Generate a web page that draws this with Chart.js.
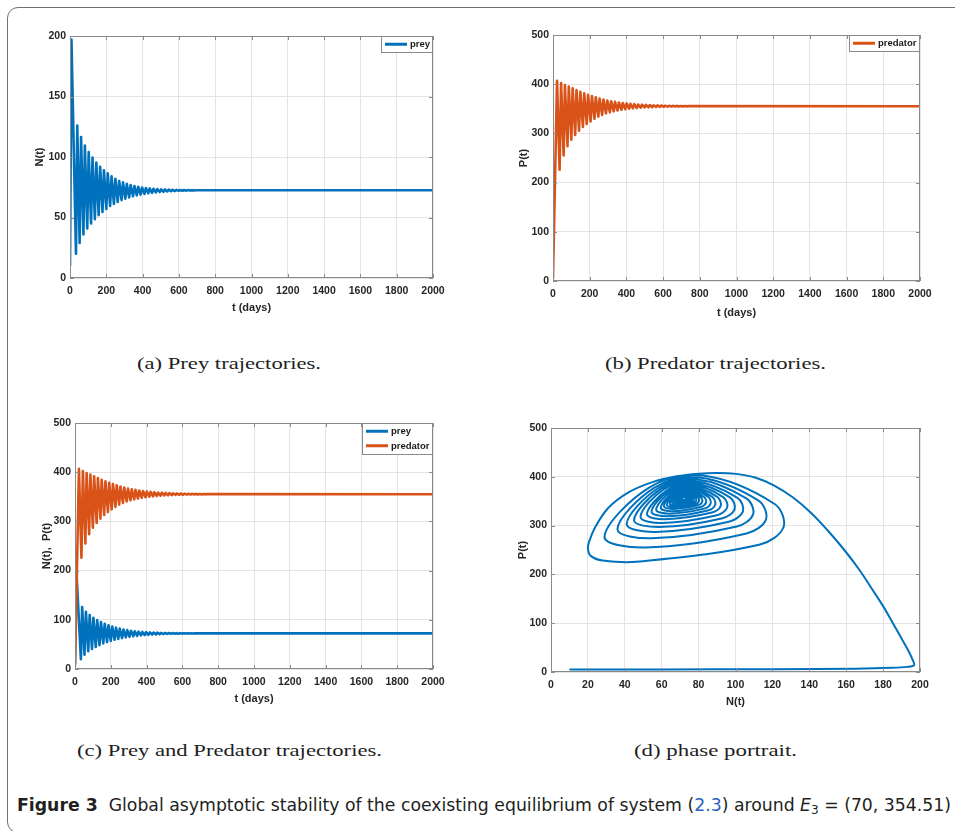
<!DOCTYPE html>
<html>
<head>
<meta charset="utf-8">
<script src="https://cdn.jsdelivr.net/npm/chart.js@4.4.1/dist/chart.umd.min.js"></script>
<style>
  html, body { margin: 0; padding: 0; background: #fff; width: 955px; height: 831px; overflow: hidden; }
  #frame { position: absolute; left: 7px; top: 7px; width: 1000px; height: 826px; border: 1.5px solid #707070; border-radius: 11px; box-sizing: border-box; }
  canvas { position: absolute; }
  .sub { position: absolute; font-family: "Liberation Serif", "DejaVu Serif", serif; font-size: 17.5px; color: #1e1e1e; white-space: nowrap; line-height: 1; transform-origin: 0 50%; }
  #cap { position: absolute; font-family: "Liberation Sans Narrow", "DejaVu Sans Condensed", "Open Sans", sans-serif; font-size: 18.5px; color: #231f20; white-space: nowrap; line-height: 1; transform-origin: 0 50%; }
  #cap b { font-weight: bold; }
  #cap .ref { color: #2a62c0; }
  #cap sub { font-size: 70%; vertical-align: -0.25em; line-height: 0; }
</style>
</head>
<body>
<div id="frame"></div>
<canvas id="ca"></canvas>
<canvas id="cb"></canvas>
<canvas id="cc"></canvas>
<canvas id="cd"></canvas>
<div class="sub" id="sa">(a) Prey trajectories.</div>
<div class="sub" id="sb">(b) Predator trajectories.</div>
<div class="sub" id="sc">(c) Prey and Predator trajectories.</div>
<div class="sub" id="sd">(d) phase portrait.</div>
<div id="cap"><b>Figure 3</b>&nbsp; Global asymptotic stability of the coexisting equilibrium of system (<span class="ref">2.3</span>) around <i>E</i><sub>3</sub> = (70, 354.51)</div>
<script>
// prey N(t): turning points
const preyT = [0, 8, 33, 40, 53, 61, 74, 82, 95, 103, 116, 124, 137, 145, 158, 166, 179, 187, 200, 208,
  221, 229, 242, 250, 263, 271, 284, 292, 305, 313, 326, 334, 347, 355, 368, 376, 389, 397, 410, 418,
  431, 439, 452, 460, 473, 481, 494, 502, 515, 523, 536, 544, 557, 565, 578, 586, 599, 607, 620, 628,
  641, 649, 662, 670, 683, 691, 2000];
const preyN = [10, 197, 20, 126, 29, 116.5, 36, 109.5, 41, 104, 45, 99.5, 48.5, 95.5, 52, 92, 54.5, 89, 57, 86.5,
  59.5, 84, 61.2, 82, 62.8, 80.2, 64.3, 79, 65.5, 77.8, 66.6, 76.8, 67.5, 76, 68.3, 75.35, 68.95, 74.8, 69.5, 74.4,
  70.0, 74.05, 70.4, 73.75, 70.75, 73.5, 71.05, 73.3, 71.3, 73.15, 71.5, 73.0, 71.7, 72.9, 71.85, 72.82, 72.0, 72.75, 72.1, 72.7,
  72.2, 72.65, 72.28, 72.6, 72.35, 72.56, 72.5];

// predator P(t): turning points
const predT = [0, 22, 36, 44, 58, 65, 79, 86, 100, 107, 121, 128, 142, 149, 163, 170, 184, 191, 205, 212,
  226, 233, 247, 254, 268, 275, 289, 296, 310, 317, 331, 338, 352, 359, 373, 380, 394, 401, 415, 422,
  436, 443, 457, 464, 478, 485, 499, 506, 520, 527, 541, 548, 562, 569, 583, 590, 604, 611, 625, 632,
  646, 653, 667, 674, 688, 695, 709, 716, 730, 737, 2000];
const predP = [5, 407, 226, 402.5, 255, 398.5, 274, 395, 287, 391.5, 297, 388, 305.5, 384.5, 313, 381.5, 319, 378.5, 324.5, 376,
  329.5, 373.5, 334, 371, 337.5, 369, 340.5, 367, 342.8, 365.4, 344.8, 364, 346.5, 362.8, 347.9, 361.8, 349.1, 360.9, 350.1, 360.1,
  350.9, 359.4, 351.6, 358.8, 352.2, 358.3, 352.7, 357.9, 353.1, 357.5, 353.45, 357.2, 353.75, 356.9, 354.0, 356.65, 354.2, 356.45, 354.4, 356.25,
  354.55, 356.1, 354.7, 355.95, 354.8, 355.8, 354.9, 355.7, 354.95, 355.6, 355.2];

// phase portrait (N, P)
const phaseN = [10, 60, 120, 165, 185, 193, 196.8, 196, 193.5, 189.5, 185, 180, 174, 167, 159, 150, 141, 131, 121, 111,
  100, 90, 80, 68, 55, 42, 31, 24, 20.5, 20, 21.5, 28, 46.5, 113.3,
  126, 121.2, 82.4, 53.0, 29, 50.9, 106.0,
  116.5, 112.5, 80.3, 55.9, 36, 54.4, 100.7,
  109.5, 106.1, 78.7, 58.0, 41, 56.8, 96.4,
  104, 101.1, 77.5, 59.6, 45, 58.6, 93.0,
  99.5, 97.0, 76.6, 61.1, 48.5, 60.3, 89.9,
  95.5, 93.3, 75.9, 62.8, 52, 62, 87.2,
  92, 90.1, 75.1, 63.8, 54.5, 63.1, 84.9,
  89, 87.4, 74.6, 64.9, 57, 64.4, 83.0,
  86.5, 85.2, 74.4, 66.2, 59.5, 65.6, 81.1,
  84, 82.9, 73.7, 66.8, 61.2, 66.4, 79.5,
  82, 81.0, 73.4, 67.6, 62.8, 67.2, 78.1,
  80.2, 79.4, 73.0, 68.2, 64.3, 67.9, 77.0,
  78.7, 78.0, 72.8, 68.8, 65.6, 68.6, 76.0,
  77.4, 76.9, 72.6, 69.4, 66.8, 69.2, 75.2,
  76.3, 75.9, 72.5, 69.9, 67.8, 69.7, 74.6,
  75.5, 75.2, 72.4, 70.3, 68.6, 70.2, 74.1,
  74.8, 74.5, 72.3, 70.7, 69.3, 70.6, 73.7,
  74.3, 74.1, 72.3, 71.0, 69.9, 70.9, 73.4,
  73.9, 73.7, 72.3, 71.3, 70.4, 71.2, 73.2,
  73.6, 73.5, 72.3, 71.5, 70.8, 71.4, 73.0,
  73.35, 72.5];
const phaseP = [5, 5.3, 5.8, 6.8, 8.5, 10.5, 14, 25, 45, 72, 102, 135, 170, 210, 250, 290, 326, 358, 382, 398,
  406, 408, 406.5, 401, 389, 368, 336, 297, 265, 253, 238, 228.5, 226, 261.3,
  296.6, 344.3, 402.5, 377.4, 277.1, 255, 283.7,
  312.4, 351.1, 398.5, 377.3, 292.7, 274, 298.2,
  322.4, 355.1, 395, 376.6, 303.2, 287, 307.9,
  328.8, 357.0, 391.5, 375.4, 311.2, 297, 315.2,
  333.4, 358.0, 388, 374.0, 317.9, 305.5, 321.3,
  337.1, 358.4, 384.5, 372.3, 323.7, 313, 326.7,
  340.4, 358.9, 381.5, 370.9, 328.4, 319, 330.9,
  342.8, 358.9, 378.5, 369.3, 332.6, 324.5, 334.8,
  345.1, 359.0, 376, 368.1, 336.5, 329.5, 338.3,
  347.1, 359.0, 373.5, 366.8, 339.9, 334, 341.4,
  348.8, 358.8, 371, 365.3, 342.5, 337.5, 343.8,
  350.1, 358.6, 369, 364.2, 344.8, 340.5, 345.8,
  351.1, 358.3, 367, 362.9, 346.6, 343, 347.5,
  351.9, 357.9, 365.3, 361.9, 348.2, 345.2, 348.9,
  352.6, 357.6, 363.8, 361.0, 349.5, 347, 350.1,
  353.2, 357.4, 362.5, 360.1, 350.6, 348.5, 351.1,
  353.6, 357.1, 361.3, 359.3, 351.5, 349.8, 351.9,
  354.0, 356.8, 360.3, 358.7, 352.3, 350.9, 352.6,
  354.3, 356.6, 359.4, 358.1, 352.9, 351.8, 353.2,
  354.6, 356.4, 358.7, 357.6, 353.4, 352.5, 353.6,
  354.7, 355];

const timeTicks = [0, 200, 400, 600, 800, 1000, 1200, 1400, 1600, 1800, 2000];
const preyTicks = [0, 50, 100, 150, 200];
const popTicks = [0, 100, 200, 300, 400, 500];
const phaseTicks = [0, 20, 40, 60, 80, 100, 120, 140, 160, 180, 200];

const BLUE = '#0072BD';
const ORANGE = '#D95319';
const FONT = '"Liberation Sans", Arial, Helvetica, sans-serif';
const INK = '#262626';
const BOX = '#8a8a8a';

function pts(xs, ys) { return xs.map((x, i) => ({ x, y: ys[i] })); }

// MATLAB-style box with inward ticks, plus the boxed legend
const matBox = {
  id: 'matBox',
  afterDraw(chart, args, opts) {
    const { ctx, chartArea: a, scales } = chart;
    ctx.save();
    ctx.strokeStyle = BOX;
    ctx.lineWidth = 1;
    ctx.strokeRect(Math.round(a.left) + 0.5, Math.round(a.top) + 0.5, Math.round(a.right - a.left) - 1, Math.round(a.bottom - a.top) - 1);
    ctx.beginPath();
    scales.x.ticks.forEach(t => {
      const px = Math.round(scales.x.getPixelForValue(t.value)) + 0.5;
      ctx.moveTo(px, a.bottom); ctx.lineTo(px, a.bottom - 4);
      ctx.moveTo(px, a.top); ctx.lineTo(px, a.top + 4);
    });
    scales.y.ticks.forEach(t => {
      const py = Math.round(scales.y.getPixelForValue(t.value)) + 0.5;
      ctx.moveTo(a.left, py); ctx.lineTo(a.left + 4, py);
      ctx.moveTo(a.right, py); ctx.lineTo(a.right - 4, py);
    });
    ctx.stroke();

    if (opts.show) {
      const items = chart.data.datasets.filter(d => d.label);
      ctx.font = 'bold 9.5px ' + FONT;
      const tw = Math.max(...items.map(d => ctx.measureText(d.label).width));
      const rowH = 14.5;
      const w = Math.round(4 + 22 + 3 + tw + 3);
      const h = Math.round(1.5 + rowH * items.length);
      const x0 = Math.round(a.right) - w;
      const y0 = Math.round(a.top);
      ctx.fillStyle = '#fff';
      ctx.fillRect(x0, y0, w, h);
      ctx.strokeStyle = BOX;
      ctx.lineWidth = 1;
      ctx.strokeRect(x0 + 0.5, y0 + 0.5, w - 1, h);
      items.forEach((d, i) => {
        const cy = y0 + 1 + rowH * (i + 0.5);
        ctx.strokeStyle = d.borderColor;
        ctx.lineWidth = 3;
        ctx.beginPath();
        ctx.moveTo(x0 + 4, cy);
        ctx.lineTo(x0 + 26, cy);
        ctx.stroke();
        ctx.fillStyle = '#1a1a1a';
        ctx.textBaseline = 'middle';
        ctx.textAlign = 'left';
        ctx.fillText(d.label, x0 + 29, cy + 0.5);
      });
    }
    ctx.restore();
  }
};

function axis(ticks, titleText, titlePad, fitFn, tickPad) {
  return {
    type: 'linear',
    min: ticks[0],
    max: ticks[ticks.length - 1],
    afterBuildTicks: s => { s.ticks = ticks.map(v => ({ value: v })); },
    afterFit: fitFn,
    ticks: {
      font: { family: FONT, size: 10.5, weight: 'bold' },
      color: INK,
      padding: tickPad,
      maxRotation: 0,
      autoSkip: false,
      callback: v => String(v)
    },
    grid: { color: '#e4e4e4', lineWidth: 1, drawTicks: false },
    border: { display: false },
    title: {
      display: true,
      text: titleText,
      font: { family: FONT, size: 11, weight: 'bold' },
      color: INK,
      padding: titlePad
    }
  };
}

function makeChart(id, g, datasets, xt, yt, xTitle, yTitle, legend) {
  const cv = document.getElementById(id);
  const left = g.l - 50, top = g.t - 16;
  const w = g.r + 22 - left, h = g.b + 45 - top;
  cv.width = w; cv.height = h;
  Object.assign(cv.style, { left: left + 'px', top: top + 'px', width: w + 'px', height: h + 'px' });
  return new Chart(cv, {
    type: 'scatter',
    data: { datasets },
    options: {
      responsive: false,
      animation: false,
      devicePixelRatio: 1,
      layout: { padding: { top: 16, right: 22, left: 0, bottom: 0 } },
      plugins: { legend: { display: false }, tooltip: { enabled: false }, matBox: { show: legend } },
      scales: {
        x: axis(xt, xTitle, { top: 0, bottom: top + h - 6.6 - g.xTitleY }, s => { s.height = 45; }, 7),
        y: axis(yt, yTitle, { top: g.yTitleX - left - 6.6, bottom: 0 }, s => { s.width = 50; }, 4)
      }
    },
    plugins: [matBox]
  });
}

function series(label, xs, ys, color, width, tension, order) {
  return {
    label, data: pts(xs, ys), showLine: true, borderColor: color, backgroundColor: color,
    borderWidth: width, pointRadius: 0, tension, borderJoinStyle: 'round', fill: false, order
  };
}

makeChart('ca', { l: 70, r: 433, t: 36, b: 278, yTitleX: 40, xTitleY: 307.5 },
  [series('prey', preyT, preyN, BLUE, 2.6, 0, 0)],
  timeTicks, preyTicks, 't (days)', 'N(t)', true);

makeChart('cb', { l: 553, r: 920, t: 35, b: 281, yTitleX: 524, xTitleY: 312.7 },
  [series('predator', predT, predP, ORANGE, 2.6, 0, 0)],
  timeTicks, popTicks, 't (days)', 'P(t)', true);

makeChart('cc', { l: 75, r: 433, t: 423, b: 669, yTitleX: 47, xTitleY: 699 },
  [series('prey', preyT, preyN, BLUE, 2.6, 0, 1), series('predator', predT, predP, ORANGE, 2.6, 0, 0)],
  timeTicks, popTicks, 't (days)', 'N(t),  P(t)', true);

makeChart('cd', { l: 551, r: 920, t: 428, b: 672, yTitleX: 523, xTitleY: 701.7 },
  [series(undefined, phaseN, phaseP, BLUE, 2, 0.35, 0)],
  phaseTicks, popTicks, 'N(t)', 'P(t)', false);

function fit(id, x, cy, width) {
  const el = document.getElementById(id);
  el.style.left = x + 'px';
  el.style.top = '0px';
  const r = el.getBoundingClientRect();
  el.style.top = (cy - r.height / 2) + 'px';
  el.style.transform = 'scaleX(' + (width / r.width) + ')';
}
fit('sa', 137, 364, 184);
fit('sb', 605, 364, 221);
fit('sc', 77, 751, 305);
fit('sd', 634, 751, 163);
fit('cap', 17, 805.5, 934);
</script>
</body>
</html>
